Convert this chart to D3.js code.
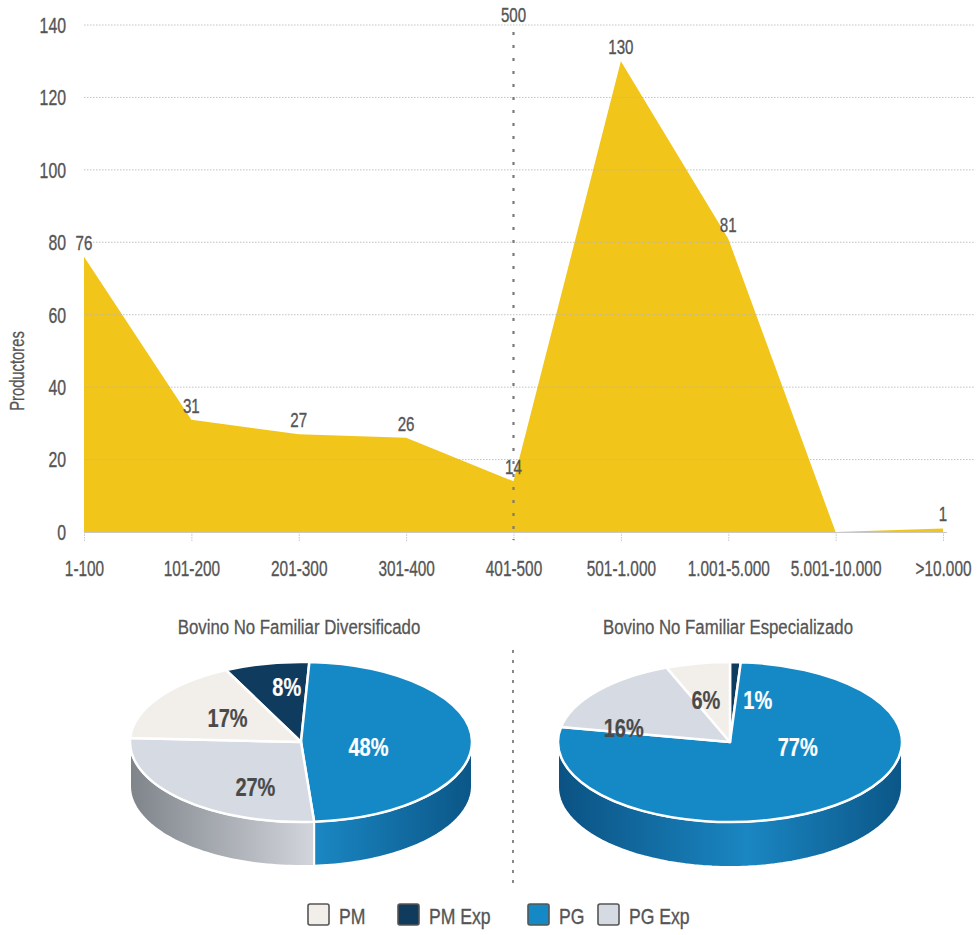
<!DOCTYPE html>
<html><head><meta charset="utf-8">
<script src="https://cdn.jsdelivr.net/npm/d3@7"></script>
<style>
body{margin:0;background:#fff;}
svg{display:block;}
text{font-family:"Liberation Sans",Arial,sans-serif;}
</style></head><body>
<svg id="c" width="978" height="935"></svg>
<script>
// ---------- data ----------
const categories = ["1-100","101-200","201-300","301-400","401-500","501-1.000","1.001-5.000","5.001-10.000",">10.000"];
const productores = [76,31,27,26,14,130,81,0,1];
const yTicks = [0,20,40,60,80,100,120,140];
const markerCategory = "401-500";
const markerLabel = "500";
const yTitle = "Productores";

const groups = ["PM","PM Exp","PG","PG Exp"];
const diversificado = [17,8,48,27];
const especializado = [6,1,77,16];
const pieTitles = ["Bovino No Familiar Diversificado","Bovino No Familiar Especializado"];

// ---------- styles ----------
const topColor = {"PM":"#F2EFEA","PM Exp":"#0F3B5E","PG":"#1589C6","PG Exp":"#D6DAE3"};
const sideStops = {
  "PM":["#aaa7a2","#ebe8e3","#b0ada8"],
  "PM Exp":["#08263d","#0e3a5c","#08263d"],
  "PG":["#0b5283","#1a86c2","#0b5687"],
  "PG Exp":["#7f848b","#d4d7dd","#8a8f96"]
};
const labelColor = {"PM":"#4a4a4a","PM Exp":"#fff","PG":"#fff","PG Exp":"#4a4a4a"};
const drawOrder = ["PM Exp","PG","PG Exp","PM"]; // clockwise from start angle
const textGray = "#555";

const svg = d3.select("#c");
const defs = svg.append("defs");

// narrow text helper (condensed look)
function ntext(parent, x, y, sx, size, color) {
  const c = color || textGray;
  return parent.append("text")
    .attr("transform", `translate(${x},${y}) scale(${sx},1)`)
    .attr("font-size", size)
    .attr("fill", c).attr("stroke", c).attr("stroke-width", 0.35);
}

// ---------- area chart ----------
const x = d3.scalePoint().domain(categories).range([84, 943]);
const y = d3.scaleLinear().domain([0,140]).range([532, 25]);

const area = d3.area()
  .x((d,i)=>x(categories[i]))
  .y0(y(0))
  .y1(d=>y(d));

svg.append("path")
  .datum(productores)
  .attr("d", area)
  .attr("fill", "#F2C51A");

// gridlines
svg.append("g").selectAll("line")
  .data(yTicks.filter(t=>t>0))
  .join("line")
  .attr("x1", 84).attr("x2", 975)
  .attr("y1", d=>y(d)).attr("y2", d=>y(d))
  .attr("stroke", "#b5b5b5").attr("stroke-width", 1)
  .attr("stroke-dasharray", "1.5,1.5")
  .attr("opacity", 0.8);

// y tick labels
const yl = svg.append("g");
yTicks.forEach(t => {
  ntext(yl, 66, y(t), 0.72, 22)
    .attr("dy", "0.36em").attr("text-anchor", "end").text(t);
});

// x axis
const xAxis = svg.append("g").attr("transform", `translate(0,${y(0)})`)
  .call(d3.axisBottom(x).tickSize(9).tickPadding(19));
xAxis.select(".domain").attr("stroke", "#c8c8c8").attr("d", "M84,0.5H947");
xAxis.selectAll(".tick line").attr("stroke", "#c8c8c8").attr("stroke-dasharray","1.5,1");
xAxis.selectAll(".tick text").attr("font-size", 22).attr("fill", textGray)
  .attr("stroke", textGray).attr("stroke-width", 0.35)
  .attr("transform", "scale(0.7,1)")
  .style("font-family", '"Liberation Sans",Arial,sans-serif');

// y title
svg.append("text")
  .attr("transform", "translate(24,371) rotate(-90) scale(0.74,1)")
  .attr("text-anchor", "middle")
  .attr("font-size", 20)
  .attr("fill", textGray).attr("stroke", textGray).attr("stroke-width", 0.3)
  .text(yTitle);

// marker line
const mx = x(markerCategory);
svg.append("line")
  .attr("x1", mx).attr("x2", mx).attr("y1", 32).attr("y2", y(0)+8)
  .attr("stroke", "#7a7a7a").attr("stroke-width", 2.2)
  .attr("stroke-dasharray", "3,10");
ntext(svg, mx, 22, 0.72, 21).attr("text-anchor", "middle").text(markerLabel);

// value labels (no label for zero)
const vl = svg.append("g");
productores.forEach((v,i) => {
  if (v === 0) return;
  ntext(vl, x(categories[i]), y(v)-7, 0.72, 21)
    .attr("text-anchor", "middle").text(v);
});

// ---------- 3D pies ----------
const pieCfgs = [
  {values: diversificado, title: pieTitles[0], cx: 301, cy: 742, rx: 171, ry: 80, depth: 44, start: -26,
   nudge: {"PM Exp":[3,4],"PG":[-18,6],"PG Exp":[14,2],"PM":[-2,9]}},
  {values: especializado, title: pieTitles[1], cx: 730, cy: 742, rx: 172, ry: 80, depth: 45, start: 0,
   nudge: {"PM Exp":[25,18],"PG":[15,-42],"PG Exp":[-40,24],"PM":[-8,17]}}
];

pieCfgs.forEach((cfg, pi) => {
  const data = drawOrder.map(gname => ({group: gname, value: cfg.values[groups.indexOf(gname)]}));
  const s0 = cfg.start * Math.PI/180;
  const arcs = d3.pie().sort(null).value(d=>d.value)
    .startAngle(s0).endAngle(s0 + 2*Math.PI)(data);

  drawOrder.forEach(gname => {
    const id = `side-${pi}-${gname.replace(/\s/g,"")}`;
    const lg = defs.append("linearGradient").attr("id", id)
      .attr("gradientUnits", "userSpaceOnUse")
      .attr("x1", cfg.cx - cfg.rx).attr("x2", cfg.cx + cfg.rx)
      .attr("y1", 0).attr("y2", 0);
    const st = sideStops[gname];
    lg.append("stop").attr("offset", 0).attr("stop-color", st[0]);
    lg.append("stop").attr("offset", 0.55).attr("stop-color", st[1]);
    lg.append("stop").attr("offset", 1).attr("stop-color", st[2]);
  });

  const g = svg.append("g");
  const px = a => cfg.cx + cfg.rx*Math.sin(a);
  const py = a => cfg.cy - cfg.ry*Math.cos(a);

  arcs.forEach(a => {
    for (let k=-1; k<=1; k++) {
      const lo = Math.max(a.startAngle, Math.PI/2 + 2*Math.PI*k);
      const hi = Math.min(a.endAngle, 3*Math.PI/2 + 2*Math.PI*k);
      if (hi <= lo) continue;
      const n = 60;
      const pts = d3.range(n+1).map(i => lo + (hi-lo)*i/n);
      let dstr = "M" + pts.map(t => `${px(t)},${py(t)}`).join("L");
      dstr += "L" + pts.slice().reverse().map(t => `${px(t)},${py(t)+cfg.depth}`).join("L") + "Z";
      g.append("path").attr("d", dstr)
        .attr("fill", `url(#side-${pi}-${a.data.group.replace(/\s/g,"")})`)
        .attr("stroke", "#fff").attr("stroke-width", 2).attr("stroke-linejoin","round");
    }
  });

  const arcGen = d3.arc().innerRadius(0).outerRadius(cfg.rx);
  const top = g.append("g").attr("transform", `translate(${cfg.cx},${cfg.cy}) scale(1,${cfg.ry/cfg.rx})`);
  top.selectAll("path").data(arcs).join("path")
    .attr("d", arcGen)
    .attr("fill", d=>topColor[d.data.group])
    .attr("stroke", "#fff").attr("stroke-width", 2.5)
    .attr("vector-effect", "non-scaling-stroke")
    .attr("stroke-linejoin", "round");

  arcs.forEach(d => {
    const m = (d.startAngle+d.endAngle)/2;
    const lx = cfg.cx + cfg.rx*0.5*Math.sin(m) + cfg.nudge[d.data.group][0];
    const ly = cfg.cy - cfg.ry*0.75*Math.cos(m) + cfg.nudge[d.data.group][1];
    ntext(g, lx, ly, 0.8, 25, labelColor[d.data.group])
      .attr("dy", "0.36em").attr("text-anchor", "middle")
      .attr("font-weight", "bold").attr("stroke-width", 0.2)
      .text(d.data.value + "%");
  });

  ntext(svg, cfg.cx - 2, 634, 0.8, 21)
    .attr("text-anchor", "middle").attr("stroke-width", 0.3)
    .text(cfg.title);
});

// divider
svg.append("line")
  .attr("x1", 513).attr("x2", 513).attr("y1", 650).attr("y2", 884)
  .attr("stroke", "#888").attr("stroke-width", 2)
  .attr("stroke-dasharray", "3,7");

// legend
const legendX = [308, 398, 528, 598];
groups.forEach((gname, i) => {
  const lg = svg.append("g").attr("transform", `translate(${legendX[i]},904)`);
  lg.append("rect").attr("width", 21).attr("height", 21).attr("rx", 2)
    .attr("fill", topColor[gname]).attr("stroke", "#555").attr("stroke-width", 1.6);
  ntext(lg, 31, 20, 0.8, 22).text(gname);
});
</script>
</body></html>
